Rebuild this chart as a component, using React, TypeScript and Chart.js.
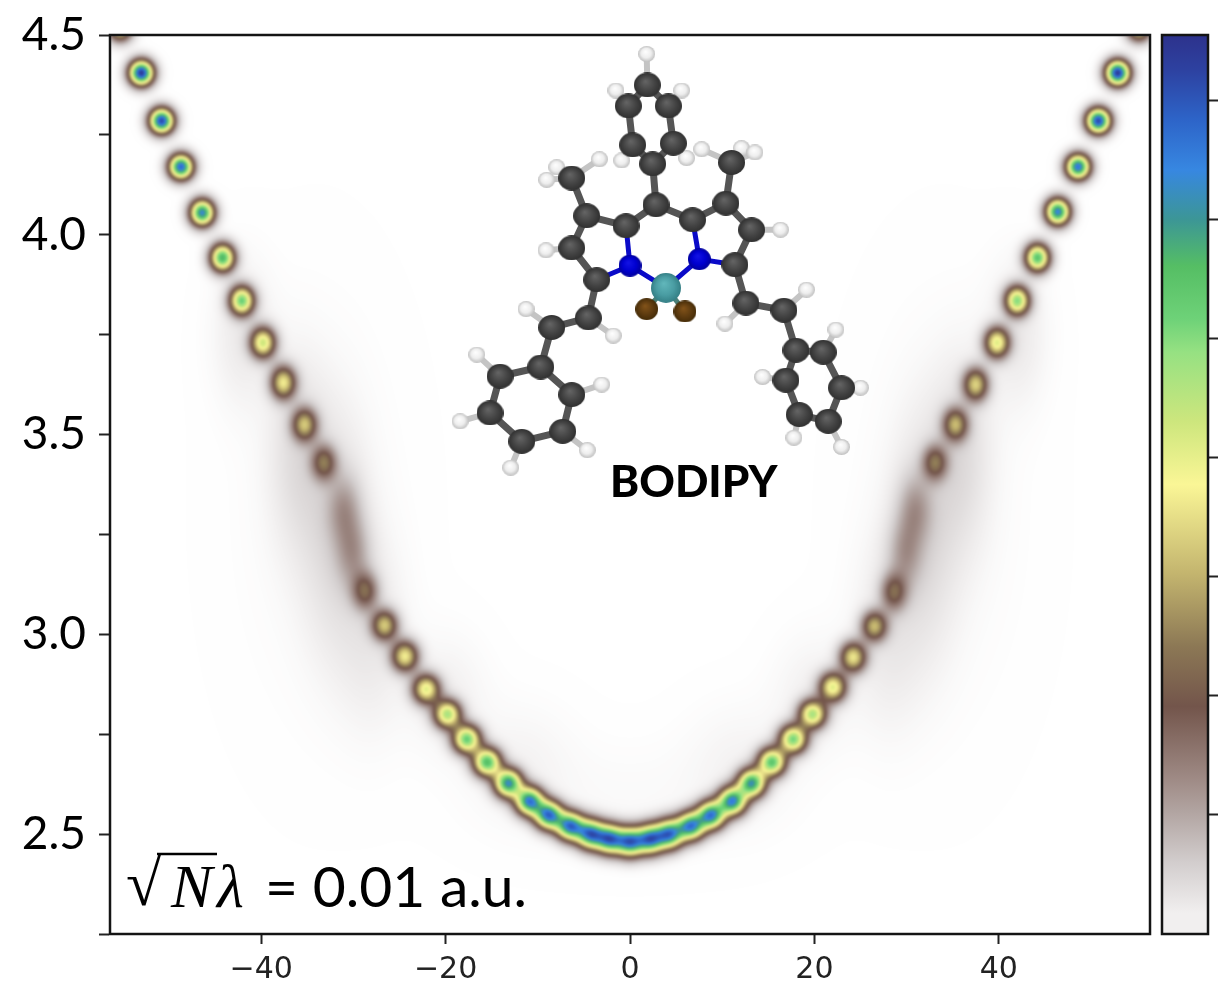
import React, { useEffect, useRef } from "react";
import { Chart, registerables } from "chart.js";

Chart.register(...registerables);

// ---- axes ----
const xRange = [-56.4, 56.4];
const yRange = [2.25, 4.5];
const xTickValues = [-40, -20, 0, 20, 40];
const colorTickValues = [0.1325, 0.265, 0.3975, 0.53, 0.6625, 0.795, 0.9275];

// ---- colour map (terrain_r as printed) ----
const cmapStops = [0, 0.023, 0.08, 0.135, 0.17, 0.253, 0.32, 0.4, 0.5, 0.57, 0.647, 0.684, 0.743, 0.795, 0.85, 0.906, 0.962, 1];
const cmapColors = [
  [255, 255, 255], [241, 239, 239], [210, 205, 205], [178, 165, 162], [160, 140, 135], [115, 85, 75],
  [140, 120, 85], [195, 180, 110], [250, 246, 150], [205, 230, 125], [150, 225, 130], [110, 210, 120],
  [85, 190, 100], [60, 150, 150], [55, 135, 225], [45, 100, 200], [45, 65, 160], [45, 50, 140],
];

// ---- energy-level peaks of the map ----
const peakX = [
  -55.3, -53.0, -50.8, -48.7, -46.4, -44.2, -42.1, -39.8, -37.6, -35.3, -33.2, -31.0, -30.0, -28.7, -26.6, -24.4, -22.1, -19.8, -17.7, -15.5, -13.2, -10.9, -8.8, -6.5, -4.3, -2.2, 0,
  2.2, 4.3, 6.6, 8.8, 11.1, 13.2, 15.4, 17.7, 19.8, 22.0, 24.2, 26.5, 28.6, 29.8, 30.9, 33.1, 35.3, 37.5, 39.8, 42.0, 44.2, 46.4, 48.6, 50.8, 52.9, 55.2,
];
const peakY = [
  4.515, 4.405, 4.285, 4.17, 4.055, 3.9425, 3.835, 3.73, 3.63, 3.525, 3.43, 3.3125, 3.2, 3.1075, 3.0225, 2.945, 2.8625, 2.8, 2.7375, 2.68, 2.6275, 2.5825, 2.5475, 2.52, 2.5, 2.4875, 2.48,
  2.4875, 2.5, 2.52, 2.5475, 2.5825, 2.6275, 2.68, 2.7375, 2.8, 2.8675, 2.9425, 3.02, 3.105, 3.2, 3.3125, 3.43, 3.525, 3.625, 3.73, 3.835, 3.9425, 4.0575, 4.17, 4.285, 4.405, 4.515,
];
const peakAmp = [
  0.5, 0.98, 0.95, 0.9, 0.84, 0.75, 0.67, 0.55, 0.46, 0.38, 0.27, 0.11, 0.11, 0.24, 0.4, 0.47, 0.52, 0.6, 0.68, 0.72, 0.8, 0.83, 0.84, 0.82, 0.8, 0.79, 0.79,
  0.79, 0.79, 0.8, 0.82, 0.82, 0.78, 0.7, 0.66, 0.6, 0.52, 0.46, 0.38, 0.24, 0.11, 0.11, 0.27, 0.36, 0.42, 0.52, 0.64, 0.72, 0.85, 0.88, 0.95, 0.98, 0.5,
];
const peakSpreadX = [
  0.9, 0.9, 0.9, 0.9, 0.9, 0.9, 0.9, 0.92, 0.92, 0.92, 0.92, 1.25, 1.25, 0.95, 0.95, 0.98, 1.0, 1.0, 1.02, 1.02, 1.02, 1.03, 1.03, 1.03, 1.03, 1.03, 1.03,
  1.03, 1.03, 1.03, 1.03, 1.03, 1.02, 1.02, 1.02, 1.0, 1.0, 0.98, 0.95, 0.95, 1.25, 1.25, 0.92, 0.92, 0.92, 0.92, 0.9, 0.9, 0.9, 0.9, 0.9, 0.9, 0.9,
];
const peakSpreadY = [
  0.0215, 0.0215, 0.0215, 0.0215, 0.0225, 0.0235, 0.0245, 0.026, 0.028, 0.028, 0.03, 0.06, 0.06, 0.032, 0.026, 0.026, 0.025, 0.024, 0.024, 0.024, 0.024, 0.024, 0.024, 0.024, 0.025, 0.025, 0.025,
  0.025, 0.025, 0.024, 0.024, 0.024, 0.024, 0.024, 0.024, 0.024, 0.025, 0.026, 0.026, 0.032, 0.06, 0.06, 0.03, 0.028, 0.028, 0.026, 0.0245, 0.0235, 0.0225, 0.0215, 0.0215, 0.0215, 0.0215,
];

// ---- faint broad background of the map ----
const hazeX = [-42, -36, -32, -28, -34, -20, -12, 0, 12, 20, 34, 28, 32, 36, 42];
const hazeY = [3.75, 3.45, 3.25, 3.0, 3.3, 2.85, 2.68, 2.58, 2.68, 2.85, 3.3, 3.0, 3.25, 3.45, 3.75];
const hazeAmp = [0.03, 0.045, 0.05, 0.03, 0.008, 0.02, 0.015, 0.008, 0.015, 0.02, 0.008, 0.03, 0.05, 0.045, 0.03];
const hazeSpreadX = [2.2, 2.2, 2.5, 2.5, 6, 3, 4, 10, 4, 3, 6, 2.5, 2.5, 2.2, 2.2];
const hazeSpreadY = [0.12, 0.16, 0.2, 0.16, 0.35, 0.1, 0.1, 0.1, 0.1, 0.1, 0.35, 0.16, 0.2, 0.16, 0.12];

// ---- molecule inset ----
const carbonX = [1.88, -0.18, 4.16, 0.29, 4.7, 2.46, 2.82, -0.43, 6.79, -4.7, 10.4, -6.32, 11.02, -6.32, 13.19, -3.61, 11.38, -4.52, -8.49, -9.68, -14.09, -15.18, -11.74, -7.3, -6.32, 12.57, 16.69, 18.0, 20.96, 22.94, 21.5, 18.36, 16.91];
const carbonY = [4.375, 4.3225, 4.3225, 4.225, 4.229, 4.1775, 4.075, 4.0225, 4.0375, 4.0475, 4.079, 4.142, 4.181, 3.967, 4.0125, 3.8875, 3.925, 3.792, 3.768, 3.669, 3.646, 3.554, 3.483, 3.508, 3.6, 3.829, 3.811, 3.711, 3.706, 3.617, 3.533, 3.55, 3.636];
const hydrogenX = [1.81, -1.52, 5.6, -0.9, 6.14, -3.32, -7.95, -9.03, 7.77, 12.1, 13.55, -9.11, 16.33, -1.81, -11.27, -16.62, -18.43, -12.94, -4.63, -3.07, 10.3, 19.15, 22.33, 25.0, 22.94, 17.78, 14.38];
const hydrogenY = [4.4525, 4.361, 4.361, 4.186, 4.192, 4.189, 4.169, 4.1375, 4.214, 4.2167, 4.206, 3.961, 4.0125, 3.7475, 3.814, 3.7, 3.533, 3.417, 3.461, 3.625, 3.7775, 3.8625, 3.7625, 3.617, 3.469, 3.492, 3.644];
const hydrogenParent = [0, 1, 2, 3, 4, 11, 11, 11, 12, 12, 12, 13, 14, 17, 18, 20, 21, 22, 23, 24, 25, 26, 28, 29, 30, 31, 32];
const nitrogenX = [0, 7.52];
const nitrogenY = [3.9225, 3.939];
const nitrogenParents = [[7, 15], [8, 16]];
const boronX = [3.9];
const boronY = [3.867];
const fluorineX = [1.81, 5.96];
const fluorineY = [3.814, 3.808];
const carbonBonds = [
  [0, 1], [0, 2], [1, 3], [2, 4], [3, 5], [4, 5], [5, 6], [6, 7], [6, 8], [7, 9], [8, 10], [9, 11], [10, 12], [9, 13], [10, 14], [13, 15], [14, 16],
  [15, 17], [16, 25], [17, 18], [18, 19], [19, 20], [20, 21], [21, 22], [22, 23], [23, 24], [24, 19], [25, 26], [26, 27], [27, 28], [28, 29], [29, 30], [30, 31], [31, 32], [32, 27],
];

const lerpColor = (v: number): number[] => {
  if (v >= 1) return cmapColors[cmapColors.length - 1];
  let i = 0;
  while (i < cmapStops.length - 2 && v > cmapStops[i + 1]) i++;
  const t = (v - cmapStops[i]) / (cmapStops[i + 1] - cmapStops[i]);
  return cmapColors[i].map((c, k) => c + (cmapColors[i + 1][k] - c) * t);
};

const zip = (xs: number[], ys: number[]) => xs.map((x, i) => ({ x, y: ys[i] }));

const segments = (pairs: { x: number; y: number }[][]) => {
  const out: { x: number; y: number }[] = [];
  pairs.forEach(([a, b]) => out.push(a, b, { x: NaN, y: NaN }));
  return out;
};

const sphere = (rx: number, ry: number, inner: string, mid: string, outer: string) => {
  const c = document.createElement("canvas");
  c.width = Math.ceil(rx * 2);
  c.height = Math.ceil(ry * 2);
  const g = c.getContext("2d")!;
  g.translate(rx, ry);
  g.scale(1, ry / rx);
  const grad = g.createRadialGradient(-rx * 0.15, -rx * 0.3, 0, 0, 0, rx);
  grad.addColorStop(0, inner);
  grad.addColorStop(0.6, mid);
  grad.addColorStop(1, outer);
  g.fillStyle = grad;
  g.beginPath();
  g.arc(0, 0, rx, 0, Math.PI * 2);
  g.fill();
  return c;
};

const fieldPlugin = {
  id: "field",
  beforeDatasetsDraw(chart: any) {
    const { ctx, chartArea: a, scales } = chart;
    const w = Math.round(a.right - a.left);
    const h = Math.round(a.bottom - a.top);
    const buf = new Float32Array(w * h);
    const sx = scales.x;
    const sy = scales.y;
    const add = (xs: number[], ys: number[], amps: number[], dxs: number[], dys: number[]) => {
      xs.forEach((x, i) => {
        const cx = sx.getPixelForValue(x) - a.left;
        const cy = sy.getPixelForValue(ys[i]) - a.top;
        const px = Math.abs(sx.getPixelForValue(x + dxs[i]) - sx.getPixelForValue(x));
        const py = Math.abs(sy.getPixelForValue(ys[i] + dys[i]) - sy.getPixelForValue(ys[i]));
        const x0 = Math.max(0, Math.floor(cx - 4 * px));
        const x1 = Math.min(w - 1, Math.ceil(cx + 4 * px));
        const y0 = Math.max(0, Math.floor(cy - 4 * py));
        const y1 = Math.min(h - 1, Math.ceil(cy + 4 * py));
        for (let yy = y0; yy <= y1; yy++) {
          for (let xx = x0; xx <= x1; xx++) {
            const ex = (xx + 0.5 - cx) / px;
            const ey = (yy + 0.5 - cy) / py;
            buf[yy * w + xx] += amps[i] * Math.exp(-0.5 * (ex * ex + ey * ey));
          }
        }
      });
    };
    add(hazeX, hazeY, hazeAmp, hazeSpreadX, hazeSpreadY);
    add(peakX, peakY, peakAmp, peakSpreadX, peakSpreadY);
    const lut: number[][] = [];
    for (let i = 0; i <= 1024; i++) lut.push(lerpColor(i / 1024));
    const off = document.createElement("canvas");
    off.width = w;
    off.height = h;
    const octx = off.getContext("2d")!;
    const img = octx.createImageData(w, h);
    for (let i = 0; i < buf.length; i++) {
      const c = lut[Math.min(1024, Math.round(buf[i] * 1024))];
      img.data[i * 4] = c[0];
      img.data[i * 4 + 1] = c[1];
      img.data[i * 4 + 2] = c[2];
      img.data[i * 4 + 3] = 255;
    }
    octx.putImageData(img, 0, 0);
    ctx.save();
    ctx.beginPath();
    ctx.rect(a.left, a.top, w, h);
    ctx.clip();
    ctx.filter = "blur(1.3px)";
    ctx.drawImage(off, a.left, a.top);
    ctx.restore();
  },
};

const framePlugin = {
  id: "frame",
  afterDraw(chart: any) {
    const { ctx, chartArea: a } = chart;
    ctx.save();
    ctx.strokeStyle = "#141414";
    ctx.lineWidth = 2.5;
    ctx.strokeRect(a.left, a.top, a.right - a.left, a.bottom - a.top);
    ctx.restore();
  },
};

const textPlugin = {
  id: "notes",
  afterDraw(chart: any) {
    const { ctx } = chart;
    ctx.save();
    ctx.fillStyle = "#000";
    ctx.textBaseline = "alphabetic";
    ctx.textAlign = "left";
    ctx.font = "900 44px Lato";
    ctx.fillText("BODIPY", 610, 497);
    ctx.font = "64px 'Liberation Serif'";
    ctx.fillText("\u221A", 126, 905);
    ctx.font = "italic 62px 'Liberation Serif'";
    ctx.fillText("N", 171, 907);
    ctx.fillText("\u03BB", 217, 907);
    ctx.font = "57px Lato";
    ctx.fillText("= 0.01 a.u.", 265, 907);
    ctx.strokeStyle = "#000";
    ctx.lineWidth = 2.5;
    ctx.beginPath();
    ctx.moveTo(157, 854);
    ctx.lineTo(217, 854);
    ctx.stroke();
    ctx.restore();
  },
};

export default function App() {
  const mainRef = useRef<HTMLCanvasElement>(null);
  const barRef = useRef<HTMLCanvasElement>(null);

  useEffect(() => {
    const carbon = zip(carbonX, carbonY);
    const hydrogen = zip(hydrogenX, hydrogenY);
    const nitrogen = zip(nitrogenX, nitrogenY);
    const boron = zip(boronX, boronY);
    const fluorine = zip(fluorineX, fluorineY);

    const bondSet = (data: any[], color: string, width: number, order: number) => ({
      label: "bond",
      data,
      showLine: true,
      spanGaps: false,
      borderColor: color,
      borderWidth: width,
      pointRadius: 0,
      order,
    });
    const atomSet = (label: string, data: any[], style: HTMLCanvasElement, order: number) => ({
      label,
      data,
      pointStyle: style,
      pointRadius: 12,
      showLine: false,
      order,
    });

    const resetPadding = (s: any) => {
      s.paddingTop = 0;
      s.paddingBottom = 0;
      s.paddingLeft = 0;
      s.paddingRight = 0;
    };

    const main = new Chart(mainRef.current!, {
      type: "scatter",
      data: {
        datasets: [
          { label: "map peaks", data: zip(peakX, peakY), pointRadius: 0, showLine: false, order: 20 },
          bondSet(segments(hydrogenParent.map((p, i) => [hydrogen[i], carbon[p]])), "#c4c4c4", 6, 10),
          atomSet("H", hydrogen, sphere(8.5, 8, "#ffffff", "#eeeeee", "#c0c0c0"), 9),
          bondSet(segments(carbonBonds.map(([a, b]) => [carbon[a], carbon[b]])), "#555555", 7, 8),
          bondSet(segments(nitrogenParents.flatMap((ps, i) => [...ps.map((p) => [nitrogen[i], carbon[p]]), [nitrogen[i], boron[0]]])), "#0a0ac8", 5, 7),
          bondSet(segments(fluorine.map((f) => [f, boron[0]])), "#4a7f78", 5, 7),
          atomSet("C", carbon, sphere(13.5, 12.5, "#666666", "#444444", "#303030"), 6),
          atomSet("F", fluorine, sphere(11.5, 11, "#84541a", "#5f3c10", "#452c08"), 5),
          atomSet("N", nitrogen, sphere(11.5, 11, "#1414e6", "#0000d0", "#00009c"), 4),
          atomSet("B", boron, sphere(15, 15, "#62b8bc", "#4a9da3", "#347f85"), 3),
        ] as any,
      },
      options: {
        responsive: false,
        animation: false,
        devicePixelRatio: 1,
        layout: { autoPadding: false, padding: { top: 35, right: 76, bottom: 0, left: 0 } },
        plugins: { legend: { display: false }, tooltip: { enabled: false } },
        events: [],
        scales: {
          x: {
            type: "linear",
            min: xRange[0],
            max: xRange[1],
            afterBuildTicks: (s: any) => {
              s.ticks = xTickValues.map((value) => ({ value }));
            },
            afterFit: (s: any) => {
              s.height = 56;
              resetPadding(s);
            },
            grid: { drawOnChartArea: false, tickLength: 10, tickColor: "#222", tickWidth: 2 },
            border: { color: "#141414", width: 2 },
            ticks: {
              autoSkip: false,
              maxRotation: 0,
              padding: 8,
              color: "#222",
              font: { family: "'DejaVu Sans'", size: 30 },
              callback: (v: any) => (Number(v) < 0 ? "\u2212" + Math.abs(Number(v)) : String(v)),
            },
          },
          y: {
            type: "linear",
            min: yRange[0],
            max: yRange[1],
            afterFit: (s: any) => {
              s.width = 110;
              resetPadding(s);
            },
            grid: { drawOnChartArea: false, tickLength: 11, tickColor: "#222", tickWidth: 2 },
            border: { color: "#141414", width: 2 },
            ticks: {
              stepSize: 0.25,
              autoSkip: false,
              padding: 13,
              color: "#000",
              font: { family: "Lato", size: 46 },
              callback: (v: any) => (Math.abs((Number(v) * 2) % 1) < 1e-6 ? Number(v).toFixed(1) : ""),
            },
          },
        },
      } as any,
      plugins: [fieldPlugin, framePlugin, textPlugin] as any,
    });

    const bar = new Chart(barRef.current!, {
      type: "bar",
      data: {
        labels: ["scale"],
        datasets: [
          {
            label: "colour scale",
            data: [[0, 1]],
            barPercentage: 1,
            categoryPercentage: 1,
            backgroundColor: (c: any) => {
              const a = c.chart.chartArea;
              if (!a) return "#888";
              const g = c.chart.ctx.createLinearGradient(0, a.bottom, 0, a.top);
              cmapStops.forEach((s, i) => {
                if (s > 0) {
                  const [r, gg, b] = cmapColors[i];
                  g.addColorStop(s, `rgb(${r},${gg},${b})`);
                }
              });
              return g;
            },
          },
        ] as any,
      },
      options: {
        responsive: false,
        animation: false,
        devicePixelRatio: 1,
        layout: { autoPadding: false, padding: { top: 35, right: 0, bottom: 56, left: 10 } },
        plugins: { legend: { display: false }, tooltip: { enabled: false } },
        events: [],
        scales: {
          x: { display: false },
          y: {
            position: "right",
            min: 0,
            max: 1,
            afterBuildTicks: (s: any) => {
              s.ticks = colorTickValues.map((value) => ({ value }));
            },
            afterFit: (s: any) => {
              s.width = 18;
              resetPadding(s);
            },
            grid: { drawOnChartArea: false, tickLength: 10, tickColor: "#222", tickWidth: 2 },
            border: { color: "#141414", width: 2 },
            ticks: { display: true, padding: 0, font: { size: 1 }, callback: () => "" },
          },
        },
      } as any,
      plugins: [framePlugin] as any,
    });

    return () => {
      main.destroy();
      bar.destroy();
    };
  }, []);

  return (
    <div style={{ position: "absolute", left: 0, top: 0, width: 1226, height: 990, overflow: "hidden", background: "#fff" }}>
      <canvas ref={mainRef} width={1226} height={990} style={{ position: "absolute", left: 0, top: 0, display: "block" }} />
      <canvas ref={barRef} width={74} height={990} style={{ position: "absolute", left: 1152, top: 0, display: "block" }} />
    </div>
  );
}
